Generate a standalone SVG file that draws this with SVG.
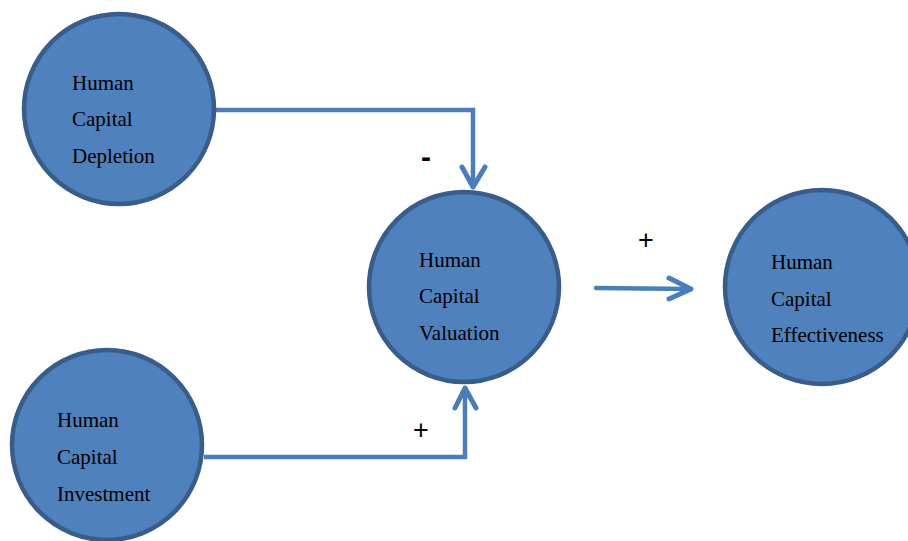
<svg xmlns="http://www.w3.org/2000/svg" width="908" height="541" viewBox="0 0 908 541">
<style>
.node{fill:#4f81bd;stroke:#385d8a;stroke-width:4.5}
.lbl{font-family:"Liberation Serif","Times New Roman",serif;font-size:21px;fill:#000}
.conn{fill:none;stroke:#4a7ebb;stroke-width:4.5;stroke-linecap:round;stroke-linejoin:miter}
.head{fill:none;stroke:#4a7ebb;stroke-width:5;stroke-linecap:round;stroke-linejoin:round}
.sign{font-family:"Liberation Sans",Arial,sans-serif;fill:#000;text-anchor:middle}
</style>
<rect width="908" height="541" fill="#fff"/>
<g id="connectors">
<polyline class="conn" points="216,110 473,110 473,186" style="stroke-linecap:butt"/>
<polyline class="head" points="462,167 473,187 485,167"/>
<polyline class="conn" points="204,457 465,457 465,389" style="stroke-linecap:butt"/>
<polyline class="head" points="455,408 465,388 476,408"/>
<line class="conn" x1="596" y1="288" x2="690" y2="289"/>
<polyline class="head" points="669,278 691,289 669,299"/>
</g>
<g id="labels">
<text class="sign" x="426" y="167" font-size="30" font-weight="bold">-</text>
<text class="sign" x="646" y="249" font-size="27">+</text>
<text class="sign" x="421" y="439" font-size="27">+</text>
</g>
<g id="depletion">
<circle class="node" cx="119" cy="109" r="95"/>
<text class="lbl" x="72" y="90">Human</text>
<text class="lbl" x="72" y="126">Capital</text>
<text class="lbl" x="72" y="163">Depletion</text>
</g>
<g id="valuation">
<circle class="node" cx="464" cy="287" r="95"/>
<text class="lbl" x="419" y="267">Human</text>
<text class="lbl" x="419" y="303">Capital</text>
<text class="lbl" x="419" y="340">Valuation</text>
</g>
<g id="investment">
<circle class="node" cx="107" cy="445" r="95"/>
<text class="lbl" x="57" y="427">Human</text>
<text class="lbl" x="57" y="464">Capital</text>
<text class="lbl" x="57" y="501">Investment</text>
</g>
<g id="effectiveness">
<circle class="node" cx="822" cy="287" r="97"/>
<text class="lbl" x="771" y="269">Human</text>
<text class="lbl" x="771" y="306">Capital</text>
<text class="lbl" x="771" y="342">Effectiveness</text>
</g>
</svg>
